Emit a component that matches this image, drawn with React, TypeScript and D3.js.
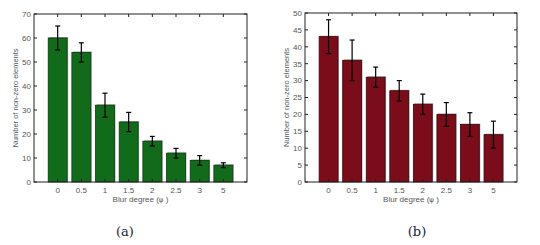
import React from "react";
import * as d3 from "d3";

const categories = ["0", "0.5", "1", "1.5", "2", "2.5", "3", "5"];
const valuesA = [60, 54, 32, 25, 17, 12, 9, 7];
const lowA = [55, 50, 27, 21, 15, 10, 7, 6];
const highA = [65, 58, 37, 29, 19, 14, 11, 8];
const valuesB = [43, 36, 31, 27, 23, 20, 17, 14];
const lowB = [38, 30, 28, 24, 20, 16.5, 13.5, 10];
const highB = [48, 42, 34, 30, 26, 23.5, 20.5, 18];
const yTicksA = [0, 10, 20, 30, 40, 50, 60, 70];
const yTicksB = [0, 5, 10, 15, 20, 25, 30, 35, 40, 45, 50];

type PanelProps = {
  left: number; right: number; top: number; bottom: number;
  yMax: number; yTicks: number[]; values: number[]; low: number[]; high: number[];
  fill: string; edge: string; caption: string; captionX: number;
};

function Panel(p: PanelProps) {
  const x = d3.scaleLinear().domain([0, categories.length + 1]).range([p.left, p.right]);
  const y = d3.scaleLinear().domain([0, p.yMax]).range([p.bottom, p.top]);
  const bw = (x(1) - x(0)) * 0.8;
  const tick = 3;
  const font = "Liberation Sans, Arial, sans-serif";
  const tc = "#555";
  const cx = (p.left + p.right) / 2;
  return (
    <g>
      {p.values.map((v, i) => {
        const xc = x(i + 1);
        return (
          <g key={"b" + i}>
            <rect x={xc - bw / 2 + 1} y={y(v) - 1} width={bw} height={p.bottom - y(v) + 1} fill="#aaa" />
            <rect x={xc - bw / 2} y={y(v)} width={bw} height={p.bottom - y(v)} fill={p.fill} stroke={p.edge} strokeWidth={0.8} />
          </g>
        );
      })}
      {p.values.map((v, i) => {
        const xc = x(i + 1);
        return (
          <g key={"e" + i} stroke="#000" strokeWidth={1.2}>
            <line x1={xc} x2={xc} y1={y(p.low[i])} y2={y(p.high[i])} />
            <line x1={xc - 2.5} x2={xc + 2.5} y1={y(p.low[i])} y2={y(p.low[i])} />
            <line x1={xc - 2.5} x2={xc + 2.5} y1={y(p.high[i])} y2={y(p.high[i])} />
          </g>
        );
      })}
      <rect x={p.left} y={p.top} width={p.right - p.left} height={p.bottom - p.top} fill="none" stroke="#222" strokeWidth={1} />
      {p.yTicks.map((t) => (
        <g key={"y" + t}>
          <line x1={p.left} x2={p.left + tick} y1={y(t)} y2={y(t)} stroke="#222" />
          <line x1={p.right} x2={p.right - tick} y1={y(t)} y2={y(t)} stroke="#222" />
          <text x={p.left - 3} y={y(t)} dy="0.35em" textAnchor="end" fontSize={8} fontFamily={font} fill={tc}>{t}</text>
        </g>
      ))}
      {categories.map((c, i) => (
        <g key={"x" + i}>
          <line x1={x(i + 1)} x2={x(i + 1)} y1={p.bottom} y2={p.bottom - tick} stroke="#222" />
          <line x1={x(i + 1)} x2={x(i + 1)} y1={p.top} y2={p.top + tick} stroke="#222" />
          <text x={x(i + 1)} y={p.bottom + 11} textAnchor="middle" fontSize={8} fontFamily={font} fill={tc}>{c}</text>
        </g>
      ))}
      <text x={cx} y={p.bottom + 20} textAnchor="middle" fontSize={8} fontFamily={font} fill={tc}>
        Blur degree (<tspan fontFamily="DejaVu Sans, sans-serif" fontSize={7}>ψ</tspan> )
      </text>
      <text transform={`translate(${p.left - 16},${(p.top + p.bottom) / 2}) rotate(-90)`} textAnchor="middle" fontSize={7.5} fontFamily={font} fill={tc}>Number of non-zero elements</text>
      <text x={p.captionX} y={236} textAnchor="middle" fontSize={13} fontFamily="DejaVu Serif, serif" fill="#1a1a3a">{p.caption}</text>
    </g>
  );
}

export default function App() {
  return (
    <svg width={540} height={245} style={{ position: "absolute", left: 0, top: 0, background: "#fff" }}>
      <Panel left={34} right={247} top={14} bottom={182} yMax={70} yTicks={yTicksA}
        values={valuesA} low={lowA} high={highA} fill="#126b1b" edge="#0a3a0f" caption="(a)" captionX={125} />
      <Panel left={305} right={517} top={13} bottom={182} yMax={50} yTicks={yTicksB}
        values={valuesB} low={lowB} high={highB} fill="#7a0d19" edge="#3a060c" caption="(b)" captionX={417} />
    </svg>
  );
}
